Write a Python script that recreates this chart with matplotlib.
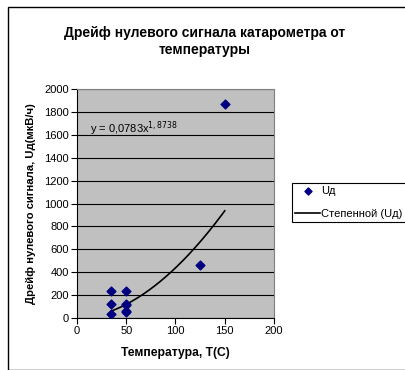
import numpy as np
import matplotlib
matplotlib.use("Agg")
import matplotlib.pyplot as plt
from matplotlib.patches import Rectangle

plt.rcParams['font.family'] = ['Liberation Sans', 'DejaVu Sans']

# measured drift points
temp = [35, 35, 35, 50, 50, 50, 50, 50, 125, 150]
drift = [232, 122, 32, 232, 122, 112, 55, 60, 464, 1870]

# power trendline coefficients
coef_a = 0.0783
coef_b = 1.8738

x_ticks = [0, 50, 100, 150, 200]
y_ticks = list(range(0, 2001, 200))

W, H = 406, 370
fig = plt.figure(figsize=(W / 100, H / 100), dpi=100)
fig.patch.set_facecolor('white')

# chart frame
fig.patches.append(Rectangle((8 / W, 0), 1.2, 1 - 7 / H, transform=fig.transFigure,
                             fill=False, edgecolor='black', linewidth=1.0))

ax = fig.add_axes([77 / W, 1 - 318 / H, (274 - 77) / W, (318 - 89) / H])
ax.set_facecolor('#C0C0C0')

ax.set_xlim(0, 200)
ax.set_ylim(0, 2000)
ax.set_xticks(x_ticks)
ax.set_yticks(y_ticks)
ax.yaxis.grid(True, color='black', linewidth=0.8)
ax.set_axisbelow(True)

for side in ['top', 'right']:
    ax.spines[side].set_color('#808080')
    ax.spines[side].set_linewidth(0.8)
for side in ['left', 'bottom']:
    ax.spines[side].set_color('black')
    ax.spines[side].set_linewidth(0.8)

ax.tick_params(direction='out', length=4, width=0.8, labelsize=8, pad=2)

ax.scatter(temp, drift, marker='D', s=20, color='#000080', zorder=3, label='Uд')

xs = np.linspace(min(temp), max(temp), 200)
ax.plot(xs, coef_a * xs ** coef_b, color='black', linewidth=1.2, zorder=2,
        label='Степенной (Uд)')

ax.text(13, 1620, 'y = 0,0783x$^{1,8738}$', fontsize=8)

ax.set_xlabel('Температура, T(C)', fontsize=8.7, fontweight='bold', labelpad=8)
ax.set_ylabel('Дрейф нулевого сигнала, Uд(мкВ/ч)', fontsize=8.1, fontweight='bold', labelpad=6)

fig.suptitle('Дрейф нулевого сигнала катарометра от\nтемпературы', x=205 / W, y=1 - 26 / H,
             fontsize=10, fontweight='bold', linespacing=1.25)

leg = fig.legend(loc='upper left', bbox_to_anchor=(292 / W, 1 - 183 / H), fontsize=8,
                 frameon=True, fancybox=False, edgecolor='black', framealpha=1,
                 handlelength=2.2, handletextpad=0.15, borderpad=0.3, labelspacing=1.1,
                 borderaxespad=0, markerscale=0.8)
leg.get_frame().set_linewidth(0.8)

fig.savefig('out.png', dpi=100)
